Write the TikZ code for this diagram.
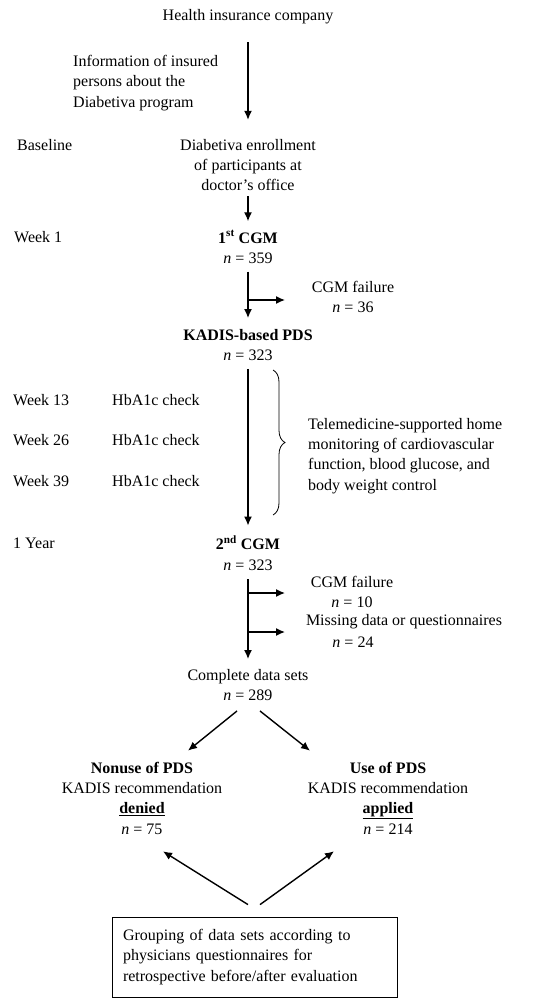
\documentclass[tikz,border=0pt]{standalone}
\usepackage{fontspec}
\setmainfont{Liberation Serif}
\usetikzlibrary{arrows.meta,decorations.pathreplacing}

\begin{document}
\begin{tikzpicture}[x=1pt,y=-1pt,
    txt/.style={font=\fontsize{16}{20.3}\selectfont,inner sep=0pt,align=center},
    lbl/.style={txt,anchor=west,align=left},
    arr/.style={line width=1.4pt,-{Latex[length=9pt,width=8pt]}}]
\useasboundingbox (0,0) rectangle (543,1008);

% main column
\node[txt] (hic) at (248,17) {Health insurance company};
\node[lbl] (info) at (73,83) {Information of insured\\persons about the\\Diabetiva program};
\node[lbl] (base) at (17,145) {Baseline};
\node[txt] (enr) at (248,165) {Diabetiva enrollment\\of participants at\\doctor's office};
\node[lbl] (wk1) at (14,237) {Week 1};
\node[txt] (cgm1) at (248,247) {\textbf{1\textsuperscript{st} CGM}\\\textit{n} = 359};
\node[txt] (fail1) at (353,297) {CGM failure\\\textit{n} = 36};
\node[txt] (kadis) at (248,345) {\textbf{KADIS-based PDS}\\\textit{n} = 323};

% follow-up
\foreach \wk/\yy in {13/400,26/440,39/481} {
    \node[lbl] (wk\wk) at (13,\yy) {Week \wk};
    \node[lbl] (hb\wk) at (112,\yy) {HbA1c check};
}
\node[lbl] (tele) at (308,456) {Telemedicine-supported home\\monitoring of cardiovascular\\function, blood glucose, and\\body weight control};

\node[lbl] (yr1) at (13,543) {1 Year};
\node[txt] (cgm2) at (248,553) {\textbf{2\textsuperscript{nd} CGM}\\\textit{n} = 323};
\node[txt] (fail2) at (352,592) {CGM failure\\\textit{n} = 10};
\node[txt] (miss) at (404,622) {Missing data or questionnaires};
\node[txt] (missn) at (353,642) {\textit{n} = 24};
\node[txt] (comp) at (248,685) {Complete data sets\\\textit{n} = 289};

% groups
\node[txt] (nonuse) at (142,798) {\textbf{Nonuse of PDS}\\KADIS recommendation\\\textbf{\underline{denied}}\\\textit{n} = 75};
\node[txt] (use) at (388,798) {\textbf{Use of PDS}\\KADIS recommendation\\\textbf{\underline{applied}}\\\textit{n} = 214};
\node[txt,draw,line width=0.8pt,align=left,text width=263pt,minimum width=285pt,
      minimum height=80pt,inner xsep=11pt] (grp) at (254.5,957)
      {Grouping of data sets according to\\physicians questionnaires for\\retrospective before/after evaluation};

% connectors
\draw[arr,shorten <=18pt,shorten >=19pt] (hic) -- (enr);
\draw[arr,shorten <=5pt,shorten >=9pt] (enr) -- (cgm1);
\draw[arr,shorten <=8pt,shorten >=11pt] (cgm1) -- (kadis);
\coordinate (br1) at (248,300);
\coordinate (br1e) at (285,300);
\draw[arr] (br1) -- (br1e);
\draw[arr,shorten <=8pt,shorten >=10pt] (kadis) -- (cgm2);
\draw[arr,shorten <=9pt,shorten >=10pt] (cgm2) -- (comp);
\coordinate (br2) at (248,593);
\coordinate (br2e) at (285,593);
\coordinate (br3) at (248,632);
\coordinate (br3e) at (285,632);
\draw[arr] (br2) -- (br2e);
\draw[arr] (br3) -- (br3e);

\draw[arr] ([shift={(-11,10)}]comp.south) -- ([shift={(46,-11)}]nonuse.north);
\draw[arr] ([shift={(12,10)}]comp.south) -- ([shift={(-78,-11)}]use.north);
\draw[arr] ([shift={(-6.5,-12)}]grp.north) -- ([shift={(21,17)}]nonuse.south);
\draw[arr] ([shift={(5.5,-12)}]grp.north) -- ([shift={(-54,17)}]use.south);

% brace
\coordinate (bt) at (273,370);
\coordinate (bb) at (273,515);
\draw[line width=0.8pt,decorate,decoration={brace,amplitude=12pt}] (bt) -- (bb);
\end{tikzpicture}
\end{document}
